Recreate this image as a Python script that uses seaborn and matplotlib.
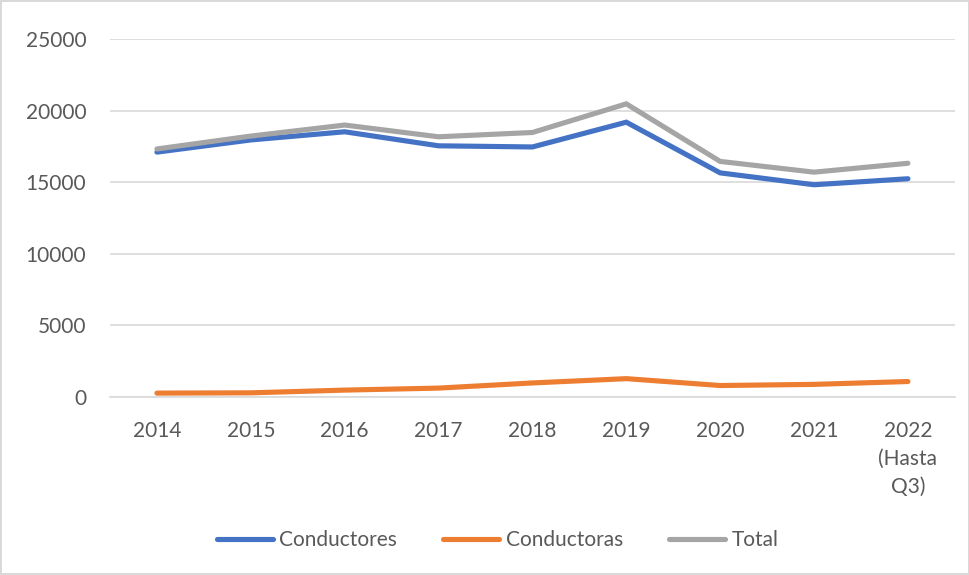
import pandas as pd
import seaborn as sns
import matplotlib.pyplot as plt

years = ["2014", "2015", "2016", "2017", "2018", "2019", "2020", "2021", "2022\n(Hasta\nQ3)"]
conductores = [17100, 17950, 18520, 17540, 17460, 19190, 15650, 14820, 15240]
conductoras = [270, 290, 480, 620, 980, 1280, 800, 880, 1080]
total = [17320, 18220, 18990, 18170, 18470, 20470, 16450, 15700, 16320]

series = ["Conductores", "Conductoras", "Total"]
colors = ["#4472C4", "#ED7D31", "#A5A5A5"]

df = pd.DataFrame({
    "year": years * 3,
    "value": conductores + conductoras + total,
    "serie": [series[0]] * 9 + [series[1]] * 9 + [series[2]] * 9,
})

sns.set_theme(style="white")
plt.rcParams["font.family"] = ["Lato", "DejaVu Sans"]

fig = plt.figure(figsize=(9.7, 5.75), dpi=100)
fig.patch.set_edgecolor("#D9D9D9")
fig.patch.set_linewidth(1.5)
ax = fig.add_axes([0.1134, 0.3096, 0.871, 0.6226])

sns.lineplot(data=df, x="year", y="value", hue="serie", hue_order=series,
             palette=colors, linewidth=3.7, sort=False, ax=ax)
for line in ax.lines:
    line.set_solid_capstyle("round")
    line.set_solid_joinstyle("miter")

ax.set_xlim(-0.5, 8.5)
ax.set_ylim(0, 25000)
ax.set_yticks(range(0, 25001, 5000))
ax.yaxis.grid(True, color="#D9D9D9", linewidth=1.2)
ax.set_axisbelow(True)
for s in ["top", "right", "left"]:
    ax.spines[s].set_visible(False)
ax.spines["bottom"].set_color("#D9D9D9")
ax.spines["bottom"].set_linewidth(1.2)
ax.tick_params(axis="both", length=0, labelsize=15, colors="#595959")
ax.tick_params(axis="x", pad=17)
ax.tick_params(axis="y", pad=17)
for lab in ax.get_xticklabels():
    lab.set_linespacing(1.5)
ax.set_xlabel("")
ax.set_ylabel("")

ax.legend(title=None, loc="center", bbox_to_anchor=(0.513, 0.061),
          bbox_transform=fig.transFigure, ncol=3, frameon=False, fontsize=15,
          handlelength=2.7, columnspacing=2.2, handletextpad=0.3,
          labelcolor="#595959")

plt.savefig("out.png", dpi=100)
